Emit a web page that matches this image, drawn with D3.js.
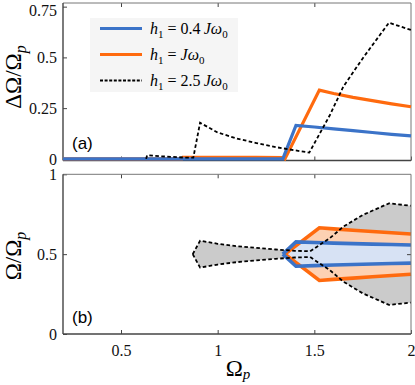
<!DOCTYPE html>
<html>
<head>
<meta charset="utf-8">
<script src="https://cdn.jsdelivr.net/npm/d3@7"></script>
<style>
  body { margin: 0; background: #fff; }
  svg { display: block; }
  .tick line { stroke: #444; }
  .tick text { font-family: "Liberation Serif", serif; font-size: 16px; fill: #111; }
</style>
</head>
<body>
<script>
// ---- data, panel (a): Delta Omega / Omega_p vs Omega_p
var xBlue = [0.2, 1.337, 1.405, 1.5, 1.6, 1.7, 1.8, 1.9, 2.0];
var dBlue = [0, 0, 0.165, 0.157, 0.148, 0.139, 0.130, 0.121, 0.113];

var xOrange = [0.2, 0.815, 0.82, 1.0, 1.2, 1.34, 1.348, 1.526, 1.6, 1.7, 1.8, 1.9, 2.0];
var dOrange = [0, 0, 0.008, 0.008, 0.007, 0.006, 0, 0.339, 0.322, 0.303, 0.287, 0.271, 0.257];

var xBlack = [0.63, 0.635, 0.7, 0.8, 0.83, 0.874, 0.909, 1.0, 1.1, 1.2, 1.3, 1.4, 1.474, 1.58, 1.65, 1.75, 1.886, 2.0];
var dBlack = [0, 0.018, 0.013, 0.008, 0.006, 0.006, 0.178, 0.13, 0.1, 0.078, 0.058, 0.042, 0.031, 0.215, 0.356, 0.495, 0.671, 0.635];

// ---- data, panel (b): Omega / Omega_p band edges
var xGrayB = [0.871, 0.909, 1.0, 1.1, 1.2, 1.3, 1.4, 1.478, 1.58, 1.65, 1.75, 1.886, 2.0];
var hiGray = [0.5, 0.584, 0.565, 0.55, 0.539, 0.529, 0.521, 0.518, 0.6, 0.672, 0.745, 0.818, 0.803];
var loGray = [0.5, 0.416, 0.435, 0.45, 0.461, 0.471, 0.479, 0.482, 0.4, 0.328, 0.255, 0.182, 0.197];

var xOrangeB = [1.348, 1.526, 1.6, 1.7, 1.8, 1.9, 2.0];
var hiOrange = [0.5, 0.665, 0.658, 0.65, 0.642, 0.634, 0.626];
var loOrange = [0.5, 0.335, 0.342, 0.35, 0.358, 0.366, 0.374];

var xBlueB = [1.337, 1.405, 1.5, 1.6, 1.7, 1.8, 1.9, 2.0];
var hiBlue = [0.5, 0.577, 0.573, 0.569, 0.566, 0.563, 0.56, 0.557];
var loBlue = [0.5, 0.424, 0.428, 0.432, 0.435, 0.438, 0.441, 0.444];

// ticks
var xTicks = [0.5, 1, 1.5, 2];
var yTicksA = [0, 0.25, 0.5, 0.75];
var yTickLabelsA = ['0', '0.25', '0.5', '0.75'];
var yTicksB = [0, 0.5, 1];
var yTickLabelsB = ['0', '0.5', '1'];
var legendCoefs = ['0.4', '', '2.5'];

var blue = '#3b73c8', orange = '#ff6a0e';

var W = 415, H = 385;
var left = 63, right = 411;

var x = d3.scaleLinear().domain([0.2, 2]).range([left, right]);
var yA = d3.scaleLinear().domain([-0.008, 0.768]).range([160.5, 3]);
var yB = d3.scaleLinear().domain([0, 1]).range([334, 174.3]);

var svg = d3.select('body').append('svg')
  .attr('width', W).attr('height', H);

function zip(xs, ys) { return xs.map(function (v, i) { return [v, ys[i]]; }); }

//frame + ticks for a panel
function frame(y, top, bottom, yTicks, yLabels, showX, rightTicks) {
  var g = svg.append('g');
  g.append('g').attr('transform', 'translate(0,' + bottom + ')')
    .call(d3.axisBottom(x).tickValues(xTicks).tickSize(-4).tickPadding(11)
      .tickFormat(showX ? function (d) { return d3.format('')(d); } : ''));
  g.append('g').attr('transform', 'translate(0,' + top + ')')
    .call(d3.axisTop(x).tickValues(xTicks.filter(function (d) { return d < 2; })).tickSize(-4).tickFormat(''));
  g.append('g').attr('transform', 'translate(' + left + ',0)')
    .call(d3.axisLeft(y).tickValues(yTicks).tickSize(-4).tickPadding(6)
      .tickFormat(function (d, i) { return yLabels[i]; }));
  if (rightTicks) {
    g.append('g').attr('transform', 'translate(' + right + ',0)')
      .call(d3.axisRight(y).tickValues(rightTicks).tickSize(-4).tickFormat(''));
  }
  g.selectAll('.domain').remove();
  g.append('line').attr('x1', left).attr('x2', right).attr('y1', top).attr('y2', top)
    .attr('stroke', '#777').attr('stroke-width', 1);
  g.append('line').attr('x1', right).attr('x2', right).attr('y1', top).attr('y2', bottom)
    .attr('stroke', '#777').attr('stroke-width', 1);
  g.append('line').attr('x1', left).attr('x2', right).attr('y1', bottom).attr('y2', bottom)
    .attr('stroke', '#444').attr('stroke-width', 1.4);
  g.append('line').attr('x1', left).attr('x2', left).attr('y1', top).attr('y2', bottom)
    .attr('stroke', '#444').attr('stroke-width', 1.4);
  return g;
}

// ---------- panel (a)
var gA = frame(yA, 3, 160.5, yTicksA, yTickLabelsA, false, null);
// keep the top label inside the window
gA.selectAll('.tick text').filter(function (d) { return d === 0.75; }).attr('dy', '0.55em');

var lineA = d3.line().x(function (d) { return x(d[0]); }).y(function (d) { return yA(d[1]); });

svg.append('path').datum(zip(xOrange, dOrange)).attr('d', lineA)
  .attr('fill', 'none').attr('stroke', orange).attr('stroke-width', 3.2);
svg.append('path').datum(zip(xBlue, dBlue)).attr('d', lineA)
  .attr('fill', 'none').attr('stroke', blue).attr('stroke-width', 3.2);
svg.append('path').datum(zip(xBlack, dBlack)).attr('d', lineA)
  .attr('fill', 'none').attr('stroke', '#000').attr('stroke-width', 1.8)
  .attr('stroke-dasharray', '3.6,2.4');

svg.append('text').attr('x', 72).attr('y', 149)
  .attr('font-family', 'Liberation Sans, Arial, sans-serif').attr('font-size', 17)
  .text('(a)');

// legend
var legend = svg.append('g');
legend.append('rect').attr('x', 90).attr('y', 18).attr('width', 148).attr('height', 74)
  .attr('fill', '#f5f5f5');
var legendStyles = [
  { c: blue, w: 3.2, dash: null },
  { c: orange, w: 3.2, dash: null },
  { c: '#000', w: 1.8, dash: '3,1.6' }
];
legendCoefs.forEach(function (coef, i) {
  var ly = 28.5 + i * 26;
  var s = legendStyles[i];
  legend.append('line').attr('x1', 100).attr('x2', 142).attr('y1', ly).attr('y2', ly)
    .attr('stroke', s.c).attr('stroke-width', s.w).attr('stroke-dasharray', s.dash);
  var t = legend.append('text').attr('x', 150).attr('y', ly + 5)
    .attr('font-family', 'Liberation Serif, serif').attr('font-size', 16);
  t.append('tspan').attr('font-style', 'italic').text('h');
  t.append('tspan').attr('font-size', 11).attr('dy', 4).text('1');
  t.append('tspan').attr('dy', -4).text(' = ' + (coef ? coef + '\u2009' : ''));
  t.append('tspan').attr('font-style', 'italic').text('J\u03c9');
  t.append('tspan').attr('font-size', 11).attr('dy', 4).text('0');
});

// y label (a)
var labA = svg.append('text').attr('transform', 'translate(21,77) rotate(-90)')
  .attr('text-anchor', 'middle').attr('font-family', 'Liberation Serif, serif').attr('font-size', 23);
labA.append('tspan').text('\u0394\u03a9/\u03a9');
labA.append('tspan').attr('font-size', 16).attr('font-style', 'italic').attr('dy', 5).text('p');

// ---------- panel (b)
var area = d3.area().x(function (d) { return x(d[0]); })
  .y0(function (d) { return yB(d[1]); }).y1(function (d) { return yB(d[2]); });
function band(xs, lo, hi) { return xs.map(function (v, i) { return [v, lo[i], hi[i]]; }); }
var lineB = d3.line().x(function (d) { return x(d[0]); }).y(function (d) { return yB(d[1]); });

svg.append('path').datum(band(xGrayB, loGray, hiGray)).attr('d', area).attr('fill', '#cbcbcb');
svg.append('path').datum(band(xOrangeB, loOrange, hiOrange)).attr('d', area).attr('fill', '#fdd1b3');
svg.append('path').datum(band(xBlueB, loBlue, hiBlue)).attr('d', area).attr('fill', '#d7e2f4');

[hiOrange, loOrange].forEach(function (ys) {
  svg.append('path').datum(zip(xOrangeB, ys)).attr('d', lineB)
    .attr('fill', 'none').attr('stroke', orange).attr('stroke-width', 3.6);
});
[hiBlue, loBlue].forEach(function (ys) {
  svg.append('path').datum(zip(xBlueB, ys)).attr('d', lineB)
    .attr('fill', 'none').attr('stroke', blue).attr('stroke-width', 3.6);
});
[hiGray, loGray].forEach(function (ys) {
  svg.append('path').datum(zip(xGrayB, ys)).attr('d', lineB)
    .attr('fill', 'none').attr('stroke', '#000').attr('stroke-width', 1.8)
    .attr('stroke-dasharray', '3.6,2.4');
});

frame(yB, 174.3, 334, yTicksB, yTickLabelsB, true, [0.5]);

svg.append('text').attr('x', 72).attr('y', 323)
  .attr('font-family', 'Liberation Sans, Arial, sans-serif').attr('font-size', 17)
  .text('(b)');

var labB = svg.append('text').attr('transform', 'translate(21,256) rotate(-90)')
  .attr('text-anchor', 'middle').attr('font-family', 'Liberation Serif, serif').attr('font-size', 23);
labB.append('tspan').text('\u03a9/\u03a9');
labB.append('tspan').attr('font-size', 16).attr('font-style', 'italic').attr('dy', 5).text('p');

var labX = svg.append('text').attr('x', 238).attr('y', 376)
  .attr('text-anchor', 'middle').attr('font-family', 'Liberation Serif, serif').attr('font-size', 23);
labX.append('tspan').text('\u03a9');
labX.append('tspan').attr('font-size', 15).attr('font-style', 'italic').attr('dy', 3).text('p');
</script>
</body>
</html>
